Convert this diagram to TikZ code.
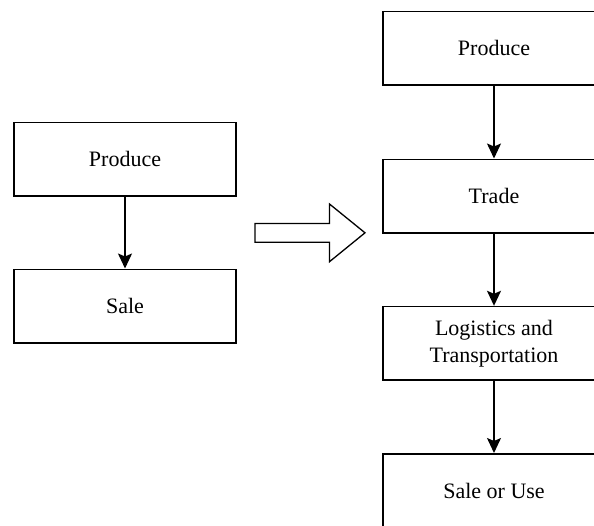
\documentclass[tikz,border=0pt]{standalone}
\usepackage{fontspec}
\setmainfont{Liberation Serif}
\usetikzlibrary{arrows.meta}
\begin{document}
\begin{tikzpicture}[x=1pt,y=-1pt,
  box/.style={draw,line width=1.5pt,minimum width=222pt,minimum height=73.5pt,inner sep=0pt,align=center,text=black,font=\fontsize{22}{27}\selectfont},
  conn/.style={line width=1.5pt,-{Stealth[length=15pt,width=14pt,inset=3pt]}}]
\useasboundingbox (0,0) rectangle (594,525);
\clip (0,0) rectangle (594,525);
% left
\node[box] (lp) at (125,159) {Produce};
\node[box] (ls) at (125,306) {Sale};
\draw[conn] (lp) -- (ls);
% hollow arrow
\draw[line width=1.3pt,line join=miter] (255,223.5) -- (329.5,223.5) -- (329.5,204) -- (365,232.8) -- (329.5,261.7) -- (329.5,242.3) -- (255,242.3) -- cycle;
% right
\node[box] (rp) at (494,48) {Produce};
\node[box] (rt) at (494,196) {Trade};
\node[box] (rl) at (494,343.3) {Logistics and\\Transportation};
\node[box] (rs) at (494,490.5) {Sale or Use};
\draw[conn] (rp) -- (rt);
\draw[conn] (rt) -- (rl);
\draw[conn] (rl) -- (rs);
\end{tikzpicture}
\end{document}
